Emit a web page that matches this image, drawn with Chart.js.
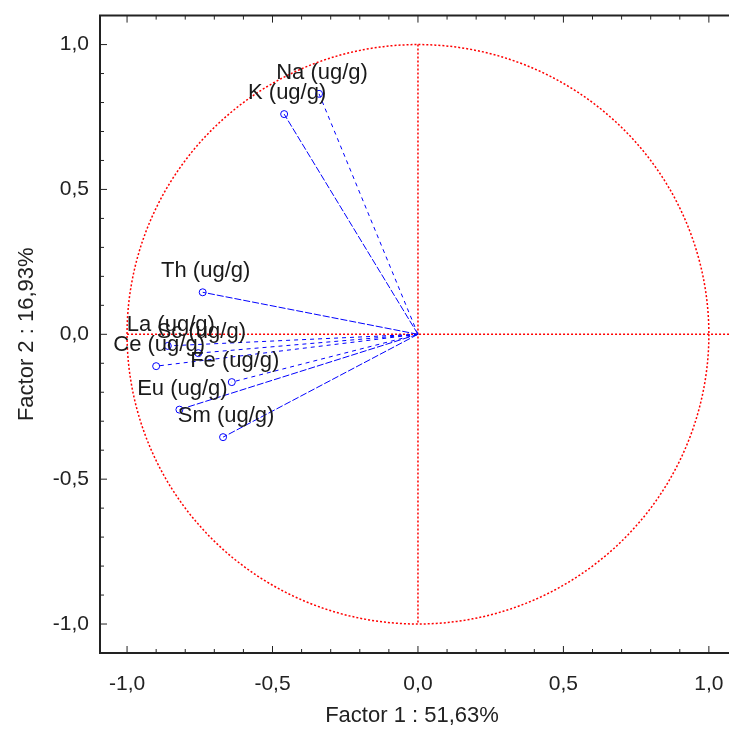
<!DOCTYPE html>
<html lang="pt">
<head>
  <meta charset="UTF-8">
  <title>Factor 1 x Factor 2</title>
  <style>
    body {
      margin: 0;
      padding: 0;
      background: #ffffff;
      overflow: hidden;
    }
    #wrap {
      width: 729px;
      height: 729px;
      position: relative;
    }
  </style>
</head>
<body>
  <div id="wrap"><canvas id="chart"></canvas></div>

  <script src="https://cdn.jsdelivr.net/npm/chart.js"></script>
  <script>
    // variaveis (cargas nos fatores 1 e 2)
    const labels  = ['Na (ug/g)', 'K (ug/g)', 'Th (ug/g)', 'La (ug/g)', 'Sc (ug/g)', 'Ce (ug/g)', 'Fe (ug/g)', 'Eu (ug/g)', 'Sm (ug/g)'];
    const factor1 = [-0.34, -0.46, -0.74, -0.86, -0.755, -0.90, -0.64, -0.82, -0.67];
    const factor2 = [0.83, 0.76, 0.145, -0.04, -0.065, -0.11, -0.165, -0.26, -0.355];
    const dashed  = [true, false, false, true, true, true, true, false, false];
    const tickVals = [-1, -0.5, 0, 0.5, 1];

    const fmt = v => v.toFixed(1).replace('.', ',');
    const FONT = '"Liberation Sans", Arial, sans-serif';

    // uma linha da origem ate cada variavel
    const datasets = labels.map((lab, i) => ({
      label: lab,
      data: [{x: 0, y: 0}, {x: factor1[i], y: factor2[i]}],
      showLine: true,
      borderColor: '#0000ff',
      borderWidth: 1,
      borderDash: dashed[i] ? [4, 4] : [7, 2],
      pointRadius: [0, 3.5],
      pointStyle: 'circle',
      pointBorderColor: '#0000ff',
      pointBackgroundColor: 'rgba(0,0,0,0)',
      pointBorderWidth: 1
    }));

    // circulo unitario, eixos vermelhos, ticks e rotulos
    const extras = {
      id: 'extras',
      beforeDatasetsDraw(chart) {
        const {ctx, scales: {x, y}} = chart;
        const cx = x.getPixelForValue(0), cy = y.getPixelForValue(0);
        ctx.save();
        ctx.strokeStyle = '#ff0000';
        ctx.lineWidth = 1.5;
        ctx.setLineDash([2, 2]);
        ctx.beginPath();
        ctx.ellipse(cx, cy, x.getPixelForValue(1) - cx, cy - y.getPixelForValue(1), 0, 0, Math.PI * 2);
        ctx.stroke();
        ctx.beginPath();
        ctx.moveTo(cx, y.getPixelForValue(1));
        ctx.lineTo(cx, y.getPixelForValue(-1));
        ctx.moveTo(x.getPixelForValue(-1), cy);
        ctx.lineTo(chart.width, cy);
        ctx.stroke();
        ctx.restore();
      },
      afterDatasetsDraw(chart) {
        const {ctx, chartArea: a, scales: {x, y}} = chart;
        ctx.save();
        // moldura
        ctx.strokeStyle = '#222';
        ctx.lineWidth = 2;
        ctx.beginPath();
        ctx.moveTo(chart.width, a.top);
        ctx.lineTo(a.left, a.top);
        ctx.lineTo(a.left, a.bottom);
        ctx.lineTo(chart.width, a.bottom);
        ctx.stroke();
        // ticks internos a cada 0,1
        ctx.lineWidth = 1;
        for (let k = -10; k <= 10; k++) {
          const v = k / 10;
          const len = (k % 5 === 0) ? 7 : 4;
          const px = x.getPixelForValue(v);
          if (px >= a.left && px <= chart.width) {
            ctx.beginPath();
            ctx.moveTo(px, a.bottom); ctx.lineTo(px, a.bottom - len);
            ctx.moveTo(px, a.top); ctx.lineTo(px, a.top + len);
            ctx.stroke();
          }
          const py = y.getPixelForValue(v);
          ctx.beginPath();
          ctx.moveTo(a.left, py); ctx.lineTo(a.left + len, py);
          ctx.stroke();
        }
        // nomes das variaveis
        ctx.fillStyle = '#1a1a1a';
        ctx.font = '22px ' + FONT;
        ctx.textAlign = 'center';
        ctx.textBaseline = 'middle';
        labels.forEach((lab, i) => {
          ctx.fillText(lab, x.getPixelForValue(factor1[i]) + 3, y.getPixelForValue(factor2[i]) - 21);
        });
        ctx.restore();
      }
    };

    new Chart(document.getElementById('chart'), {
      type: 'scatter',
      data: {datasets: datasets},
      options: {
        responsive: true,
        maintainAspectRatio: false,
        animation: false,
        layout: {padding: {top: 15, right: 0, left: 0, bottom: 0}},
        plugins: {legend: {display: false}, tooltip: {enabled: false}},
        scales: {
          x: {
            min: -1.093,
            max: 1.052,
            border: {display: false},
            grid: {display: false},
            afterBuildTicks: s => { s.ticks = tickVals.map(v => ({value: v})); },
            afterFit: s => { s.height = 76; s.paddingLeft = 0; s.paddingRight = 0; },
            ticks: {
              callback: v => fmt(v),
              color: '#222',
              padding: 11,
              maxRotation: 0,
              autoSkip: false,
              font: {family: FONT, size: 21}
            },
            title: {
              display: true,
              text: 'Factor 1 : 51,63%',
              color: '#222',
              padding: {top: 4, bottom: 0},
              font: {family: FONT, size: 22}
            }
          },
          y: {
            min: -1.1,
            max: 1.1,
            border: {display: false},
            grid: {display: false},
            afterBuildTicks: s => { s.ticks = tickVals.map(v => ({value: v})); },
            afterFit: s => { s.width = 100; },
            ticks: {
              callback: v => fmt(v),
              color: '#222',
              padding: 3,
              autoSkip: false,
              font: {family: FONT, size: 21}
            },
            title: {
              display: true,
              text: 'Factor 2 : 16,93%',
              color: '#222',
              padding: {top: 14, bottom: 0},
              font: {family: FONT, size: 22}
            }
          }
        }
      },
      plugins: [extras]
    });
  </script>
</body>
</html>
